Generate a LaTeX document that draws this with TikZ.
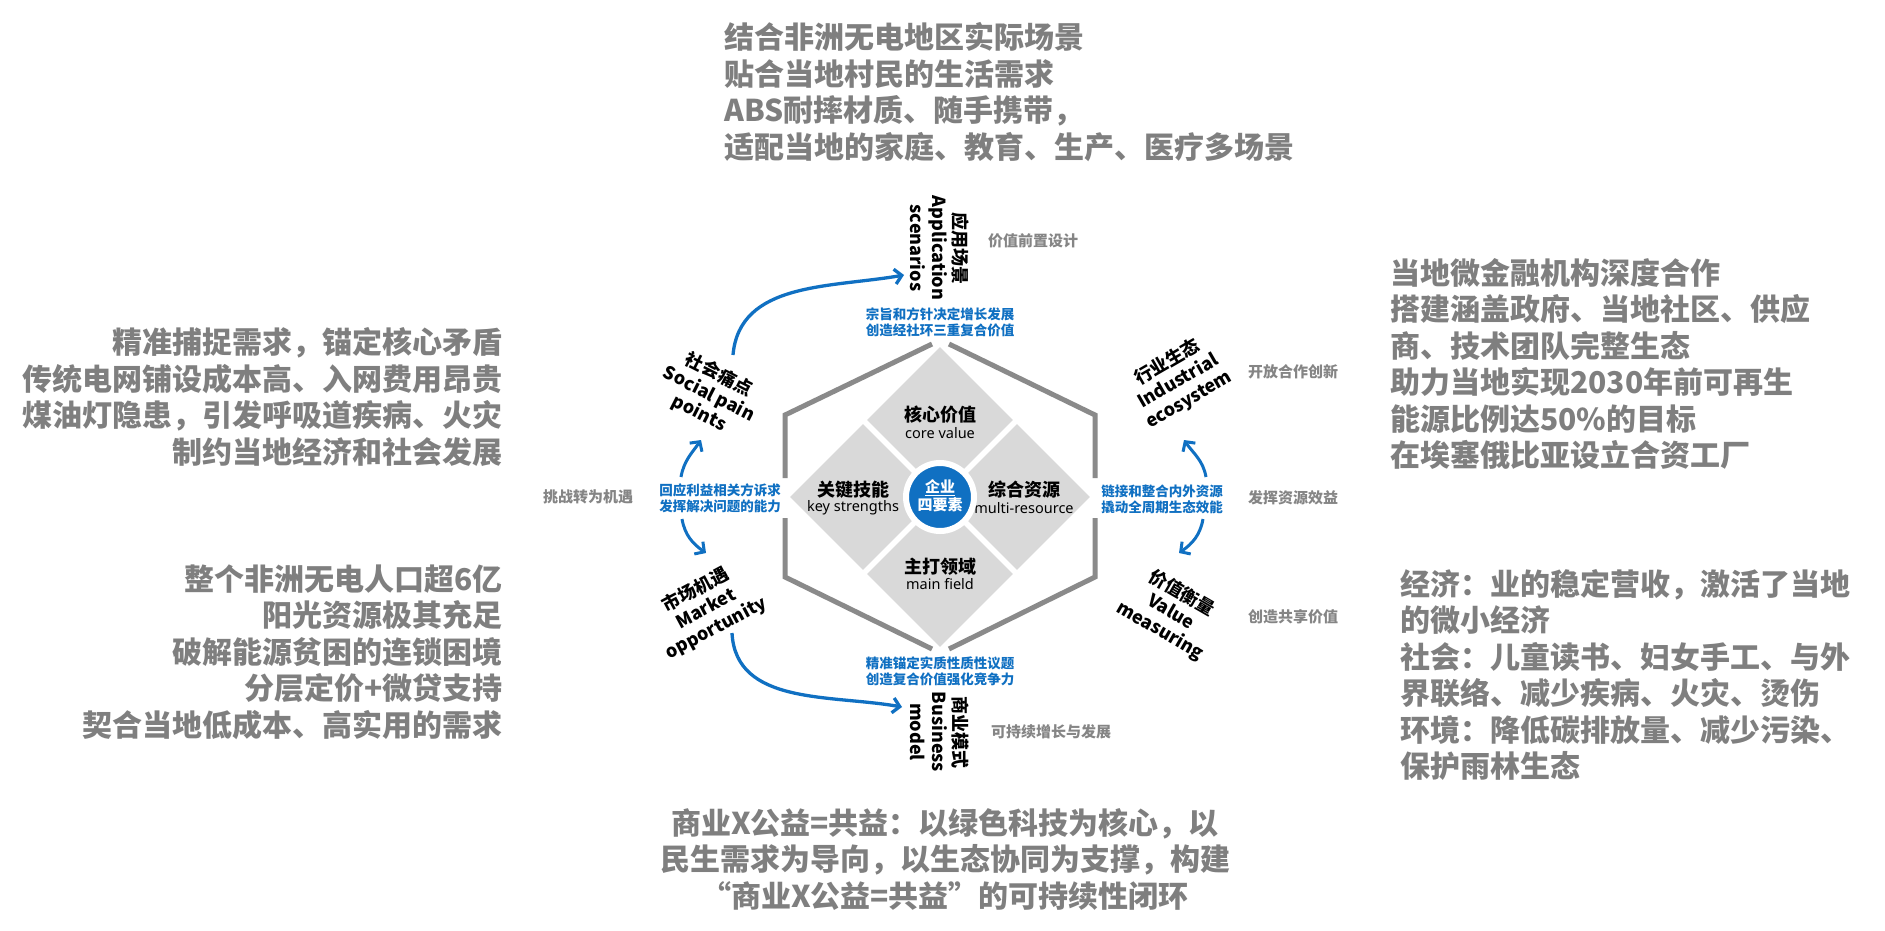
\documentclass[tikz,border=0pt]{standalone}
\usepackage{fontspec}
\setmainfont{Noto Sans CJK SC}
\newfontfamily\enfont{Noto Sans}
\usetikzlibrary{arrows.meta,shapes.geometric}
\definecolor{txtgray}{HTML}{7F7F7F}
\definecolor{lblgray}{HTML}{858585}
\definecolor{hexgray}{HTML}{8A8A8A}
\definecolor{diagray}{HTML}{D9D9D9}
\definecolor{myblue}{HTML}{1070C2}
\begin{document}
\begin{tikzpicture}[x=1pt,y=1pt,
  graybig/.style={font=\bfseries\fontsize{30}{36.5}\selectfont, text=txtgray, inner sep=0},
  graysmall/.style={font=\bfseries\fontsize{15}{18}\selectfont, text=lblgray, inner sep=0, anchor=west},
  bluetxt/.style={font=\bfseries\fontsize{13.5}{16}\selectfont, text=myblue, align=center, inner sep=0},
  rotlabel/.style={align=center, inner sep=0, font=\bfseries\fontsize{18}{21.5}\selectfont},
  hexline/.style={draw=hexgray, line width=5pt, line join=miter},
  dia/.style={shape=diamond, aspect=1, fill=diagray, minimum size=146pt, inner sep=0},
  diacn/.style={font=\bfseries\fontsize{18}{20}\selectfont, inner sep=0},
  diaen/.style={font=\enfont\fontsize{14.5}{16}\selectfont, inner sep=0},
  bluearrow/.style={draw=myblue, line width=3.3pt, -{Straight Barb[length=7pt,width=15pt]}},
]
\useasboundingbox[fill=white] (0,0) rectangle (1885,-930);

% ---- hexagon frame ----
\draw[hexline] (785,-478) -- (785,-415) -- (932,-344);
\draw[hexline] (949,-344) -- (1095,-415) -- (1095,-478);
\draw[hexline] (785,-518) -- (785,-577) -- (932,-649);
\draw[hexline] (949,-649) -- (1095,-577) -- (1095,-518);

% ---- diamonds ----
\node[dia] (dtop) at (940,-420) {};
\node[dia] (dleft) at (863,-497) {};
\node[dia] (dright) at (1017,-497) {};
\node[dia] (dbot) at (940,-574) {};

\node[diacn] (cv1) at (940,-415) {核心价值};
\node[diaen] (cv2) at (940,-433) {core value};
\node[diacn] (ks1) at (853,-490) {关键技能};
\node[diaen] (ks2) at (853,-508) {key strengths};
\node[diacn] (mr1) at (1024,-490) {综合资源};
\node[diaen] (mr2) at (1024,-508) {multi-resource};
\node[diacn] (mf1) at (940,-567) {主打领域};
\node[diaen] (mf2) at (940,-584) {main field};

% ---- centre circle ----
\node[circle, fill=myblue, draw=white, line width=6pt, minimum size=68pt, inner sep=0] (core) at (940,-497) {};
\node[font=\bfseries\fontsize{15}{16}\selectfont, text=white, inner sep=0] (core1) at (940,-487) {企业};
\node[font=\bfseries\fontsize{15}{16}\selectfont, text=white, inner sep=0] (core2) at (940,-505) {四要素};
\draw[white, line width=0.8pt] (core1.south west) ++(0,-1) -- ++(30,0);

% ---- blue texts ----
\node[bluetxt] (btop) at (940,-322) {宗旨和方针决定增长发展\\创造经社环三重复合价值};
\node[bluetxt] (bbot) at (940,-671) {精准锚定实质性质性议题\\创造复合价值强化竞争力};
\node[bluetxt] (bleft) at (720,-498) {回应利益相关方诉求\\发挥解决问题的能力};
\node[bluetxt] (bright) at (1162,-499) {链接和整合内外资源\\撬动全周期生态效能};

% ---- rotated labels ----
\node[rotlabel, rotate=-90] (app) at (940,-248) {应用场景\\Application\\scenarios};
\node[rotlabel, rotate=-90] (biz) at (940,-732) {商业模式\\Business\\model};
\node[rotlabel, rotate=-27] (soc) at (709,-394) {社会痛点\\Social pain\\points};
\node[rotlabel, rotate=28] (mkt) at (706,-609) {市场机遇\\Market\\opportunity};
\node[rotlabel, rotate=30] (ind) at (1178,-381) {行业生态\\Industrial\\ecosystem};
\node[rotlabel, rotate=-30] (val) at (1171,-612) {价值衡量\\Value\\measuring};

% ---- small gray labels ----
\node[graysmall] (g1) at (988,-241) {价值前置设计};
\node[graysmall] (g2) at (1248,-372) {开放合作创新};
\node[graysmall] (g3) at (1248,-498) {发挥资源效益};
\node[graysmall] (g4) at (1248,-617) {创造共享价值};
\node[graysmall] (g5) at (991,-732) {可持续增长与发展};
\node[graysmall] (g6) at (543,-497) {挑战转为机遇};

% ---- arrows ----
\coordinate (a1s) at (733,-355); \coordinate (a1e) at (904,-275);
\coordinate (a2s) at (732,-633); \coordinate (a2e) at (902,-707);
\coordinate (a3s) at (681,-477); \coordinate (a3e) at (701,-440);
\coordinate (a4s) at (682,-519); \coordinate (a4e) at (706,-553);
\coordinate (a5s) at (1206,-477); \coordinate (a5e) at (1184,-440);
\coordinate (a6s) at (1203,-519); \coordinate (a6e) at (1179,-553);
\draw[bluearrow] (a1s) to[out=85,in=190] (a1e);
\draw[bluearrow] (a2s) to[out=-87,in=170] (a2e);
\draw[bluearrow, line width=3pt] (a3s) to[out=80,in=-125] (a3e);
\draw[bluearrow, line width=3pt] (a4s) to[out=-80,in=145] (a4e);
\draw[bluearrow, line width=3pt] (a5s) to[out=100,in=-55] (a5e);
\draw[bluearrow, line width=3pt] (a6s) to[out=-100,in=35] (a6e);

% ---- big gray text blocks ----
\node[graybig, anchor=west, align=left] (ttop) at (724,-92) {结合非洲无电地区实际场景\\贴合当地村民的生活需求\\ABS耐摔材质、随手携带，\\适配当地的家庭、教育、生产、医疗多场景};
\node[graybig, anchor=east, align=right] (tl1) at (503,-397) {精准捕捉需求，锚定核心矛盾\\传统电网铺设成本高、入网费用昂贵\\煤油灯隐患，引发呼吸道疾病、火灾\\制约当地经济和社会发展};
\node[graybig, anchor=east, align=right] (tl2) at (503,-652) {整个非洲无电人口超6亿\\阳光资源极其充足\\破解能源贫困的连锁困境\\分层定价+微贷支持\\契合当地低成本、高实用的需求};
\node[graybig, anchor=west, align=left] (tr1) at (1390,-364) {当地微金融机构深度合作\\搭建涵盖政府、当地社区、供应\\商、技术团队完整生态\\助力当地实现2030年前可再生\\能源比例达50\%的目标\\在埃塞俄比亚设立合资工厂};
\node[graybig, anchor=west, align=left] (tr2) at (1400,-675) {经济：业的稳定营收，激活了当地\\的微小经济\\社会：儿童读书、妇女手工、与外\\界联络、减少疾病、火灾、烫伤\\环境：降低碳排放量、减少污染、\\保护雨林生态};
\node[graybig, align=center] (tbot) at (945,-859) {商业X公益=共益：以绿色科技为核心，以\\民生需求为导向，以生态协同为支撑，构建\\“商业X公益=共益”的可持续性闭环};
\end{tikzpicture}
\end{document}
